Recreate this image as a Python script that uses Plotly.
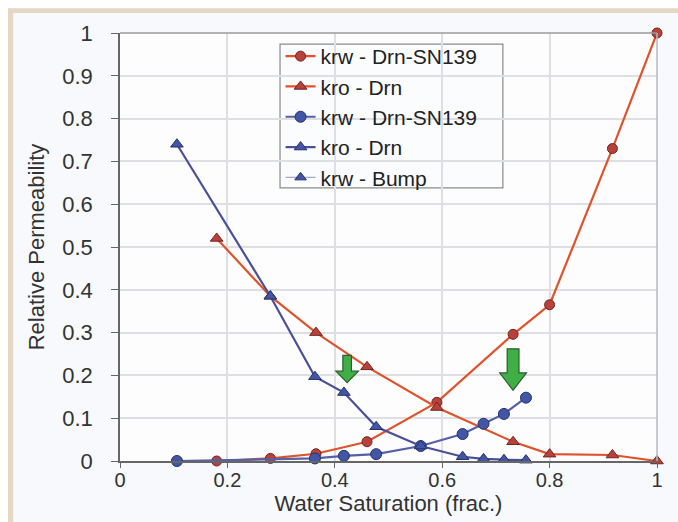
import plotly.graph_objects as go

# ---- data ----
red_krw_x = [0.18, 0.28, 0.365, 0.46, 0.59, 0.732, 0.80, 0.917, 1.0]
red_krw_y = [0.0, 0.006, 0.017, 0.045, 0.137, 0.296, 0.365, 0.73, 1.0]

red_kro_x = [0.18, 0.28, 0.365, 0.46, 0.59, 0.732, 0.80, 0.917, 1.0]
red_kro_y = [0.52, 0.385, 0.30, 0.22, 0.125, 0.045, 0.016, 0.014, 0.0]

blue_krw_x = [0.106, 0.363, 0.417, 0.477, 0.56, 0.638, 0.677, 0.715, 0.756]
blue_krw_y = [0.0, 0.006, 0.012, 0.016, 0.035, 0.063, 0.087, 0.11, 0.148]

blue_kro_x = [0.106, 0.28, 0.363, 0.417, 0.477, 0.56, 0.638, 0.677, 0.715, 0.756]
blue_kro_y = [0.74, 0.385, 0.197, 0.16, 0.08, 0.035, 0.01, 0.005, 0.003, 0.002]

bump_x = [None]
bump_y = [None]

series_names = ["krw - Drn-SN139", "kro - Drn", "krw - Drn-SN139", "kro - Drn", "krw - Bump"]

x_ticks = [0, 0.2, 0.4, 0.6, 0.8, 1]
x_tick_labels = ["0", "0.2", "0.4", "0.6", "0.8", "1"]
y_ticks = [0, 0.1, 0.2, 0.3, 0.4, 0.5, 0.6, 0.7, 0.8, 0.9, 1]
y_tick_labels = ["0", "0.1", "0.2", "0.3", "0.4", "0.5", "0.6", "0.7", "0.8", "0.9", "1"]

# green arrows (data coords)
arrow_x = [0.423, 0.732]
arrow_top = [0.247, 0.262]
arrow_tip = [0.183, 0.165]
arrow_shaft_hw = [0.008, 0.011]
arrow_head_hw = [0.021, 0.025]

RED_LINE = "#e0522c"
RED_MARK = "#b8423a"
RED_EDGE = "#6e2622"
BLUE_LINE = "#5560a6"
BLUE_MARK = "#4256a6"
BLUE_EDGE = "#27306a"

FONT = "Liberation Sans, Arial, sans-serif"

fig = go.Figure()

fig.add_trace(go.Scatter(x=red_krw_x, y=red_krw_y, name=series_names[0], mode="lines+markers",
                         line=dict(color=RED_LINE, width=2.2),
                         marker=dict(symbol="circle", size=10, color=RED_MARK, line=dict(color=RED_EDGE, width=1)),
                         cliponaxis=False))
fig.add_trace(go.Scatter(x=red_kro_x, y=red_kro_y, name=series_names[1], mode="lines+markers",
                         line=dict(color=RED_LINE, width=2.2),
                         marker=dict(symbol="triangle-up", size=11, color=RED_MARK, line=dict(color=RED_EDGE, width=1)),
                         cliponaxis=False))
fig.add_trace(go.Scatter(x=blue_krw_x, y=blue_krw_y, name=series_names[2], mode="lines+markers",
                         line=dict(color=BLUE_LINE, width=2.2),
                         marker=dict(symbol="circle", size=11, color=BLUE_MARK, line=dict(color=BLUE_EDGE, width=1)),
                         cliponaxis=False))
fig.add_trace(go.Scatter(x=blue_kro_x, y=blue_kro_y, name=series_names[3], mode="lines+markers",
                         line=dict(color="#4a4f98", width=2.2),
                         marker=dict(symbol="triangle-up", size=11, color=BLUE_MARK, line=dict(color=BLUE_EDGE, width=1)),
                         cliponaxis=False))
fig.add_trace(go.Scatter(x=bump_x, y=bump_y, name=series_names[4], mode="lines+markers",
                         line=dict(color="#a4a9cc", width=1.2),
                         marker=dict(symbol="triangle-up", size=10, color=BLUE_MARK, line=dict(color=BLUE_EDGE, width=1)),
                         cliponaxis=False, showlegend=True))

# arrows as shapes
for ax_, top, tip, hw, hh in zip(arrow_x, arrow_top, arrow_tip, arrow_shaft_hw, arrow_head_hw):
    head_h = (top - tip) * 0.42
    neck = tip + head_h
    path = (f"M {ax_-hw},{top} L {ax_+hw},{top} L {ax_+hw},{neck} L {ax_+hh},{neck} "
            f"L {ax_},{tip} L {ax_-hh},{neck} L {ax_-hw},{neck} Z")
    fig.add_shape(type="path", path=path, xref="x", yref="y",
                  fillcolor="#3fae45", line=dict(color="#2b5e2e", width=1.2), layer="above")

# outer white area and beige frame (left and top)
fig.add_shape(type="rect", xref="paper", yref="paper", x0=-0.24, x1=-0.2086, y0=-0.2, y1=1.1,
              fillcolor="#ffffff", line_width=0, layer="below")
fig.add_shape(type="rect", xref="paper", yref="paper", x0=-0.24, x1=1.1, y0=1.058, y1=1.1,
              fillcolor="#ffffff", line_width=0, layer="below")
fig.add_shape(type="rect", xref="paper", yref="paper", x0=-0.2086, x1=-0.199, y0=-0.2, y1=1.058,
              fillcolor="#e3d8c3", line_width=0, layer="below")
fig.add_shape(type="rect", xref="paper", yref="paper", x0=-0.2086, x1=1.1, y0=1.047, y1=1.058,
              fillcolor="#e3d8c3", line_width=0, layer="below")

# legend box
fig.add_shape(type="rect", xref="paper", yref="paper", x0=0.298, x1=0.713, y0=0.638, y1=0.974,
              fillcolor="#fbfcfe", line=dict(color="#8a8a8a", width=1.2), layer="between")

fig.update_layout(
    width=678, height=522,
    margin=dict(l=120, r=21, t=33, b=61),
    paper_bgcolor="#f7f9fc",
    plot_bgcolor="#fdfdfe",
    font=dict(family=FONT, size=21, color="#333333"),
    showlegend=True,
    legend=dict(x=0.299, y=0.993, xanchor="left", yanchor="top",
                bgcolor="rgba(0,0,0,0)", borderwidth=0,
                font=dict(family=FONT, size=21, color="#222222"), tracegroupgap=0,
                itemwidth=30),
    xaxis=dict(range=[0, 1], tickvals=x_ticks, ticktext=x_tick_labels,
               tickfont=dict(family=FONT, size=20, color="#333333"),
               showgrid=True, gridcolor="#dedfe3", gridwidth=1.5,
               showline=True, linecolor="#666666", linewidth=1.5,
               ticks="outside", ticklen=5, tickcolor="#666666",
               ticklabelstandoff=-5,
               zeroline=False, mirror=False,
               title=dict(text="Water Saturation (frac.)", standoff=2,
                          font=dict(family=FONT, size=22, color="#333333"))),
    yaxis=dict(range=[0, 1], tickvals=y_ticks, ticktext=y_tick_labels,
               tickfont=dict(family=FONT, size=22, color="#333333"),
               showgrid=True, gridcolor="#dedfe3", gridwidth=1.5,
               showline=True, linecolor="#666666", linewidth=1.5,
               ticks="outside", ticklen=7, tickcolor="#666666",
               ticklabelstandoff=14,
               zeroline=False,
               title=dict(text="Relative Permeability", standoff=12,
                          font=dict(family=FONT, size=22, color="#333333"))),
)

# top and right border lines
fig.add_shape(type="line", xref="paper", yref="paper", x0=0, x1=1, y0=1, y1=1,
              line=dict(color="#9a9a9a", width=1.5))
fig.add_shape(type="line", xref="paper", yref="paper", x0=1, x1=1, y0=0, y1=1,
              line=dict(color="#b5b8c0", width=1.5))

fig.write_html("out.html")
